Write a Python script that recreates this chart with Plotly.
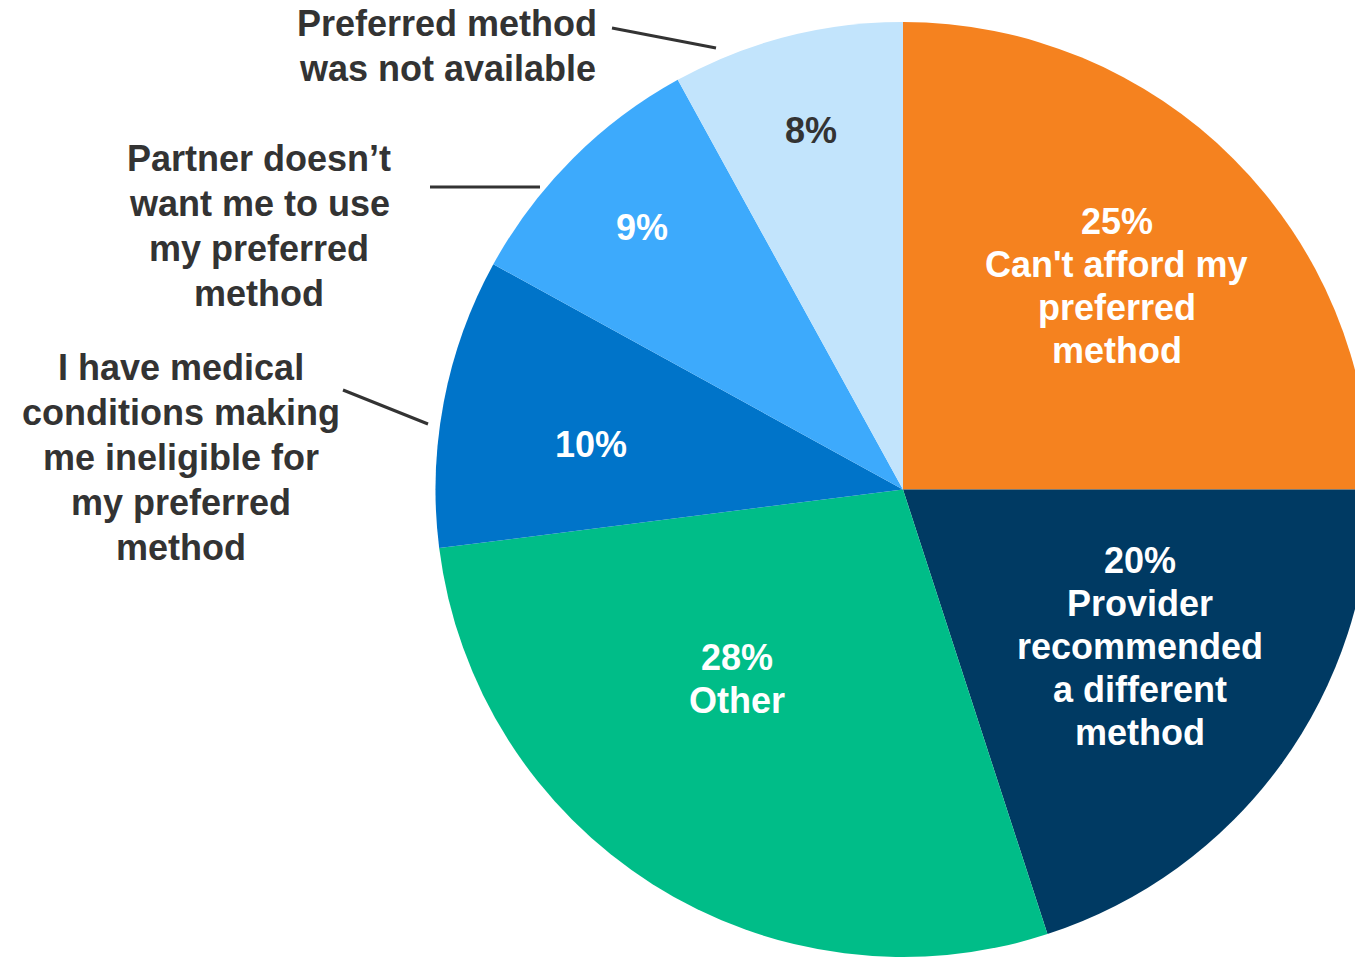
import math
import plotly.graph_objects as go

# Reasons for not using the preferred contraceptive method (share of respondents, %)
categories = [
    "Can't afford my preferred method",
    "Provider recommended a different method",
    "Other",
    "I have medical conditions making me ineligible for my preferred method",
    "Partner doesn’t want me to use my preferred method",
    "Preferred method was not available",
]
values = [25, 20, 28, 10, 9, 8]

# Text lines shown inside each slice (after the percentage)
inside_lines = [
    ["Can't afford my", "preferred", "method"],
    ["Provider", "recommended", "a different", "method"],
    ["Other"],
    [],
    [],
    [],
]
# Callout text lines drawn beside the small slices
callout_lines = [
    [],
    [],
    [],
    ["I have medical", "conditions making", "me ineligible for", "my preferred", "method"],
    ["Partner doesn’t", "want me to use", "my preferred", "method"],
    ["Preferred method", "was not available"],
]

colors = ["#F5821F", "#003A63", "#00BD88", "#0074C9", "#3DAAFC", "#C2E4FC"]
pct_colors = ["white", "white", "white", "white", "white", "#333333"]

W, H = 1400, 957
FONT = "Liberation Sans, Arial, sans-serif"
DARK = "#333333"
FSIZE = 36

# pie geometry in pixels
x0, x1 = 435, 1371
y_top = 22
dom_x = [x0 / W, x1 / W]
dom_y = [0.0, 1 - y_top / H]
R = min(x1 - x0, H - y_top) / 2
cx = (x0 + x1) / 2
cy = y_top + R

# label placement: fraction of radius and angular nudge (degrees) per slice
label_rfrac = [0.63, 0.61, 0.54, 0.675, 0.79, 0.79]
label_nudge = [1.5, -2.3, 8.7, -2.8, 0.0, 0.0]
INSIDE_GAP = 43
OUTSIDE_GAP = 45

fig = go.Figure(
    go.Pie(
        labels=categories,
        values=values,
        sort=False,
        direction="clockwise",
        rotation=0,
        marker=dict(colors=colors, line=dict(width=0)),
        textinfo="none",
        hoverinfo="label+percent",
        domain=dict(x=dom_x, y=dom_y),
        showlegend=False,
    )
)

annotations = []


def text_block(lines, px, py, gap, color):
    n = len(lines)
    for k, line in enumerate(lines):
        ly = py + (k - (n - 1) / 2) * gap - 1
        annotations.append(
            dict(
                x=px / W, y=1 - ly / H, xref="paper", yref="paper",
                text=line, showarrow=False, xanchor="center", yanchor="middle",
                align="center",
                font=dict(family=FONT, size=FSIZE, color=color, weight="bold"),
            )
        )


total = sum(values)
cum = 0.0
for i, v in enumerate(values):
    mid = (cum + v / 2) / total * 360.0
    cum += v
    ang = math.radians(mid + label_nudge[i])
    px = cx + label_rfrac[i] * R * math.sin(ang)
    py = cy - label_rfrac[i] * R * math.cos(ang)
    text_block([f"{v}%"] + inside_lines[i], px, py, INSIDE_GAP, pct_colors[i])

# callout labels (pixel positions of block centres); the top one sits low
# enough that its first line stays inside the page
callout_pos = {3: (181, 458.5), 4: (259, 227), 5: (447, 47)}
for i, (px, py) in callout_pos.items():
    text_block(callout_lines[i], px, py, OUTSIDE_GAP, DARK)

# leader lines from callouts to slices
leaders = [((343, 390), (428, 424)), ((430, 187), (540, 187)), ((612, 28), (716, 48))]
shapes = []
for (ax, ay), (bx, by) in leaders:
    shapes.append(
        dict(
            type="line", xref="paper", yref="paper",
            x0=ax / W, y0=1 - ay / H, x1=bx / W, y1=1 - by / H,
            line=dict(color=DARK, width=3),
        )
    )

fig.update_layout(
    width=W,
    height=H,
    margin=dict(l=0, r=0, t=0, b=0),
    paper_bgcolor="white",
    plot_bgcolor="white",
    annotations=annotations,
    shapes=shapes,
)

fig.write_html(
    "out.html",
    post_script="document.documentElement.style.overflow='hidden';"
                "document.body.style.overflow='hidden';document.body.style.margin='0';",
)
